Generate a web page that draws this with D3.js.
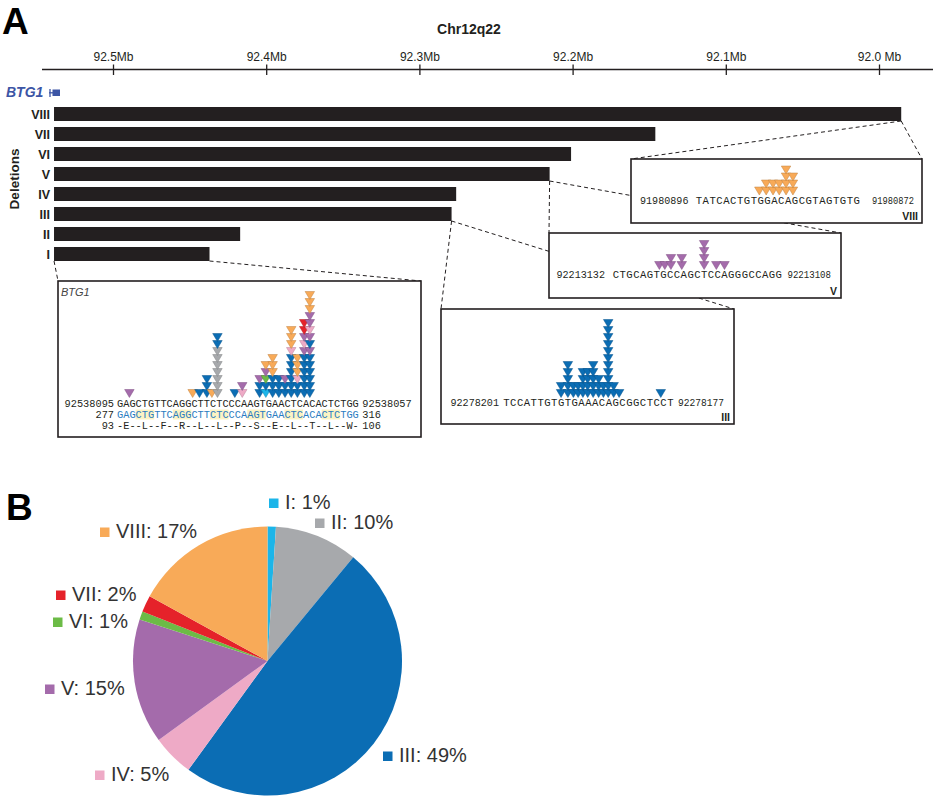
<!DOCTYPE html>
<html>
<head>
<meta charset="utf-8">
<script src="https://cdn.jsdelivr.net/npm/d3@7"></script>
<style>
  body { margin: 0; background: #fff; }
  svg { display: block; }
</style>
</head>
<body>
<svg id="chart" width="938" height="800"></svg>
<script>
// ---- data ----
// deletion classes, drawn top row first
var deletions = ["VIII", "VII", "VI", "V", "IV", "III", "II", "I"];
var delStart = 92.5385;                      // all deletions start at BTG1 (Mb)
var delEnd = [91.9855, 92.146, 92.201, 92.215, 92.276, 92.279, 92.417, 92.437];
var axisTicks = [92.5, 92.4, 92.3, 92.2, 92.1, 92.0];
var tickLabels = ["92.5Mb", "92.4Mb", "92.3Mb", "92.2Mb", "92.1Mb", "92.0 Mb"];

// pie: share of each deletion class
var pieClasses = ["I", "II", "III", "IV", "V", "VI", "VII", "VIII"];
var piePercent = [1, 10, 49, 5, 15, 1, 2, 17];
var classColors = ["#1cb5e9", "#a7a9ac", "#0b6db4", "#eeaac6", "#a46bab", "#6cbb46", "#e5222a", "#f8aa58"];

// BTG1 breakpoint region
var btgSeq = "GAGCTGTTCAGGCTTCTCCCAAGTGAACTCACACTCTGG";
var btgAA = "-E--L--F--R--L--L--P--S--E--L--T--L--W-";
var btgCoords = ["92538095", "92538057"];
var btgCds = ["277", "316"];
var btgCodon = ["93", "106"];
// [offset in bases from sequence start, classes bottom -> top]
var btgStacks = [
  [2.0, ["V"]],
  [12.2, ["VIII"]],
  [13.3, ["III"]],
  [14.5, ["III", "III", "III"]],
  [15.3, ["VIII"]],
  [16.2, ["II", "II", "II", "II", "II", "II", "II", "III", "III"]],
  [19.0, ["III"]],
  [20.2, ["IV", "V"]],
  [23.0, ["III", "III", "V"]],
  [24.0, ["I", "III", "VI", "V", "VIII"]],
  [25.1, ["III", "III", "III", "VIII", "VIII", "VIII"]],
  [26.1, ["III", "III", "III"]],
  [27.1, ["III", "III", "V"]],
  [28.1, ["III", "III", "III", "III", "III", "III", "IV", "VIII", "VIII", "VIII"]],
  [29.1, ["III", "III", "IV", "VIII", "VIII", "VIII"]],
  [30.2, ["III", "III", "III", "III", "III", "III", "V", "IV", "V", "VII", "VII"]],
  [31.1, ["III", "III", "III", "III", "III", "III", "V", "III", "V", "IV", "V", "V", "VIII", "VIII", "VIII"]]
];

// class III breakpoints
var iiiSeq = "TCCATTGTGTGAAACAGCGGCTCCT";
var iiiCoords = ["92278201", "92278177"];
var iiiStacks = [[8.5, 2], [9.5, 5], [10.3, 2], [11.0, 2], [11.7, 4], [12.4, 4], [13.2, 5],
                 [14.0, 3], [14.7, 2], [15.4, 11], [16.2, 2], [17.0, 1], [23.1, 1]];

// class V breakpoints
var vSeq = "CTGCAGTGCCAGCTCCAGGGCCAGG";
var vCoords = ["92213132", "92213108"];
var vStacks = [[6.9, 1], [7.7, 1], [8.6, 2], [10.2, 2], [13.5, 4], [15.3, 1], [16.5, 1]];

// class VIII breakpoints
var viiiSeq = "TATCACTGTGGACAGCGTAGTGTG";
var viiiCoords = ["91980896", "91980872"];
var viiiStacks = [[9.3, 1], [10.3, 2], [11.3, 2], [12.2, 2], [13.2, 4], [14.2, 3]];

// ---- drawing ----
var svg = d3.select("#chart");
var ink = "#231f20";
var mono = "'Courier New', 'Liberation Mono', monospace";
var sans = "'Liberation Sans', Arial, Helvetica, sans-serif";

var color = d3.scaleOrdinal().domain(pieClasses).range(classColors);

// panel letters
svg.append("text").attr("x", 2).attr("y", 34).text("A")
  .style("font", "bold 37px " + sans).attr("fill", "#000");
svg.append("text").attr("x", 6).attr("y", 520).text("B")
  .style("font", "bold 37px " + sans).attr("fill", "#000");

svg.append("text").attr("x", 469).attr("y", 33.5).attr("text-anchor", "middle")
  .text("Chr12q22").style("font", "bold 14px " + sans).attr("fill", ink);

// genomic axis (reversed: coordinates decrease to the right)
var x = d3.scaleLinear().domain([92.5, 92.0]).range([113, 879]);
var axisG = svg.append("g").attr("transform", "translate(0,69.5)");
axisG.append("line").attr("x1", 42).attr("x2", 933)
  .attr("stroke", ink).attr("stroke-width", 1.3);
axisG.call(d3.axisTop(x).tickValues(axisTicks).tickSize(0).tickPadding(9)
    .tickFormat(function(d, i) { return tickLabels[i]; }))
  .call(function(g) { g.select(".domain").remove(); })
  .selectAll("text").style("font", "12px " + sans).attr("fill", ink);
axisG.selectAll(".tick").append("line")
  .attr("y1", -5).attr("y2", 5.5).attr("stroke", ink).attr("stroke-width", 1.3);

// BTG1 gene label and glyph
svg.append("text").attr("x", 6).attr("y", 97).text("BTG1")
  .style("font", "italic bold 14px " + sans).attr("fill", "#3c55a5");
svg.append("rect").attr("x", 52.5).attr("y", 89.5).attr("width", 7.5).attr("height", 6.5).attr("fill", "#3c55a5");
svg.append("line").attr("x1", 50).attr("x2", 50).attr("y1", 89).attr("y2", 97)
  .attr("stroke", "#3c55a5").attr("stroke-width", 1.3);
svg.append("line").attr("x1", 49).attr("x2", 53).attr("y1", 92.8).attr("y2", 92.8)
  .attr("stroke", "#3c55a5").attr("stroke-width", 1.3);

// deletion bars
var y = d3.scaleBand().domain(deletions).range([104, 264]).paddingInner(0.3).paddingOuter(0.15);
svg.append("text").attr("transform", "translate(19,179) rotate(-90)").attr("text-anchor", "middle")
  .text("Deletions").style("font", "bold 13.5px " + sans).attr("fill", ink);
svg.selectAll(".dlab").data(deletions).join("text")
  .attr("x", 50).attr("y", function(d) { return y(d) + y.bandwidth() / 2 + 4.6; })
  .attr("text-anchor", "end").text(function(d) { return d; })
  .style("font", "bold 12.5px " + sans).attr("fill", ink);

// inset boxes [x0, y0, x1, y1]
var boxBtg = [58, 281, 421, 437];
var boxIII = [441, 309, 734, 424];
var boxV = [549, 233, 841, 298];
var boxVIII = [631, 159, 922, 223];

function barEnd(cls) { return [x(delEnd[deletions.indexOf(cls)]), y(cls) + y.bandwidth()]; }

// dashed connectors, drawn beneath the boxes
var links = [
  [[x(delStart), y("I") + y.bandwidth()], [boxBtg[0], boxBtg[1]]],
  [barEnd("I"), [boxBtg[2], boxBtg[1]]],
  [barEnd("III"), [boxIII[0], boxIII[1]]],
  [barEnd("III"), [boxIII[2], boxIII[1]]],
  [barEnd("V"), [boxV[0], boxV[1]]],
  [barEnd("V"), [boxV[2], boxV[1]]],
  [barEnd("VIII"), [boxVIII[0], boxVIII[1]]],
  [barEnd("VIII"), [boxVIII[2], boxVIII[1]]]
];
svg.selectAll(".link").data(links).join("line")
  .attr("x1", function(d) { return d[0][0]; }).attr("y1", function(d) { return d[0][1]; })
  .attr("x2", function(d) { return d[1][0]; }).attr("y2", function(d) { return d[1][1]; })
  .attr("stroke", ink).attr("stroke-width", 1).attr("stroke-dasharray", "4,3");

svg.selectAll(".bar").data(deletions).join("rect")
  .attr("x", x(delStart)).attr("y", function(d) { return y(d); })
  .attr("width", function(d, i) { return x(delEnd[i]) - x(delStart); })
  .attr("height", y.bandwidth()).attr("fill", ink);

function drawBox(b) {
  svg.append("rect").attr("x", b[0]).attr("y", b[1]).attr("width", b[2] - b[0]).attr("height", b[3] - b[1])
    .attr("fill", "#fff").attr("stroke", ink).attr("stroke-width", 1.6);
}

// one down-pointing breakpoint triangle per deletion, stacked upward
function drawStacks(g, sx, stacks, tipY, classOf) {
  var w = 9.5, h = 8, pitch = 7;
  stacks.forEach(function(s) {
    var cx = sx(s[0]);
    var list = classOf(s);
    list.forEach(function(cls, k) {
      var top = tipY - h - k * pitch;
      var c = color(cls);
      g.append("path")
        .attr("d", "M" + (cx - w / 2) + "," + top + "L" + (cx + w / 2) + "," + top + "L" + cx + "," + (top + h) + "Z")
        .attr("fill", c).attr("stroke", d3.color(c).darker(0.7)).attr("stroke-width", 0.5);
    });
  });
}

function drawSeq(g, seq, sx, baseline, size, fill) {
  g.selectAll(null).data(seq.split("")).join("text")
    .attr("x", function(d, i) { return sx(i + 0.5); }).attr("y", baseline)
    .attr("text-anchor", "middle").text(function(d) { return d; })
    .style("font", size + "px " + mono).attr("fill", fill);
}

// ---- BTG1 inset ----
drawBox(boxBtg);
var gb = svg.append("g");
var bx = d3.scaleLinear().domain([0, btgSeq.length]).range([117, 117 + btgSeq.length * 6.2]);
gb.append("text").attr("x", 61).attr("y", 296).text("BTG1")
  .style("font", "italic 11px " + sans).attr("fill", "#444");
// alternate codon shading on the coding line
gb.selectAll(".codon").data(d3.range(1, btgSeq.length / 3, 2)).join("rect")
  .attr("x", function(k) { return bx(k * 3); }).attr("y", 409.5)
  .attr("width", bx(3) - bx(0)).attr("height", 10).attr("fill", "#fbf3c4");
drawStacks(gb, bx, btgStacks, 397.5, function(s) { return s[1]; });
drawSeq(gb, btgSeq, bx, 406.5, 10.3, ink);
drawSeq(gb, btgSeq, bx, 417.5, 10.3, "#2a7cc1");
drawSeq(gb, btgAA, bx, 428.5, 10.3, ink);
[[btgCoords, 406.5], [btgCds, 417.5], [btgCodon, 428.5]].forEach(function(r) {
  gb.append("text").attr("x", bx(0) - 3).attr("y", r[1]).attr("text-anchor", "end")
    .text(r[0][0]).style("font", "10.3px " + mono).attr("fill", ink);
  gb.append("text").attr("x", bx(btgSeq.length) + 3.5).attr("y", r[1])
    .text(r[0][1]).style("font", "10.3px " + mono).attr("fill", ink);
});

// ---- small insets (III, V, VIII) ----
// left / right coordinate labels are squeezed into [start, end] spans
function smallInset(b, cls, seq, coords, stacks, x0, cw, leftSpan, rightSpan, baseline) {
  drawBox(b);
  var g = svg.append("g");
  var sx = d3.scaleLinear().domain([0, seq.length]).range([x0, x0 + seq.length * cw]);
  drawStacks(g, sx, stacks, baseline - 8.5, function(s) { return d3.range(s[1]).map(function() { return cls; }); });
  drawSeq(g, seq, sx, baseline, 10.6, ink);
  [[coords[0], leftSpan], [coords[1], rightSpan]].forEach(function(c) {
    g.append("text").attr("x", c[1][0]).attr("y", baseline).text(c[0])
      .attr("textLength", c[1][1] - c[1][0]).attr("lengthAdjust", "spacingAndGlyphs")
      .style("font", "10.2px " + mono).attr("fill", ink);
  });
  g.append("text").attr("x", b[2] - 4).attr("y", b[3] - 3.5).attr("text-anchor", "end").text(cls)
    .style("font", "bold 10.5px " + sans).attr("fill", ink);
}
smallInset(boxVIII, "VIII", viiiSeq, viiiCoords, viiiStacks, 695.5, 6.86, [640, 688.5], [872, 914], 203.5);
smallInset(boxV, "V", vSeq, vCoords, vStacks, 612.6, 6.78, [556.5, 605], [787.5, 831], 278);
smallInset(boxIII, "III", iiiSeq, iiiCoords, iiiStacks, 503, 6.83, [450.5, 499], [678, 724], 406);

// ---- panel B: pie ----
var pie = d3.pie().sort(null).value(function(d) { return d; });
var arc = d3.arc().innerRadius(0).outerRadius(134.5);
var pg = svg.append("g").attr("transform", "translate(267.5,661)");
pg.selectAll("path").data(pie(piePercent)).join("path")
  .attr("d", arc).attr("fill", function(d, i) { return color(pieClasses[i]); });

// legend labels placed around the pie: [square x, text baseline]
var labelPos = {
  "I": [269, 509], "II": [315, 529], "III": [383, 762], "IV": [95, 781],
  "V": [45, 695], "VI": [53, 628], "VII": [56, 601], "VIII": [100, 538]
};
pieClasses.forEach(function(c, i) {
  var p = labelPos[c];
  svg.append("rect").attr("x", p[0]).attr("y", p[1] - 10.5).attr("width", 9.5).attr("height", 9.5)
    .attr("fill", color(c));
  svg.append("text").attr("x", p[0] + 16).attr("y", p[1]).text(c + ": " + piePercent[i] + "%")
    .style("font", "20px " + sans).attr("fill", "#333");
});
</script>
</body>
</html>
